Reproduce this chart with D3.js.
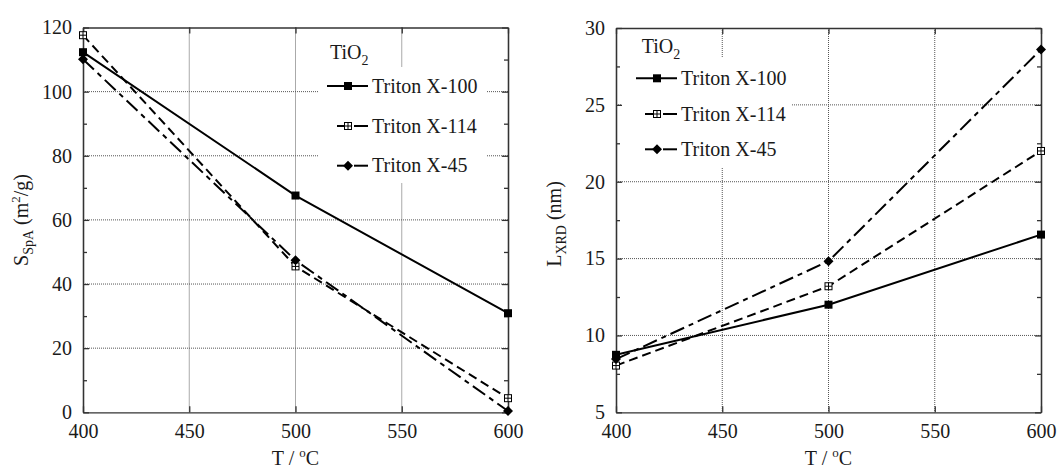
<!DOCTYPE html>
<html>
<head>
<meta charset="utf-8">
<script src="https://d3js.org/d3.v7.min.js"></script>
<style>
  body { margin: 0; background: #fff; }
  svg { display: block; }
  svg text { font-family: "Liberation Serif", "Times New Roman", Times, "DejaVu Serif", serif !important; fill: #1a1a1a; }
</style>
</head>
<body>
<div id="chart"></div>
<script>
    // values
    var temps = [400, 500, 600];
    var seriesNames = ["Triton X-100", "Triton X-114", "Triton X-45"];

    var spaX100 = [112.3, 67.6, 30.9];
    var spaX114 = [117.6, 45.5, 4.4];
    var spaX45 = [110.1, 47.4, 0.4];

    var xrdX100 = [8.74, 12.0, 16.56];
    var xrdX114 = [8.04, 13.2, 22.0];
    var xrdX45 = [8.46, 14.83, 28.6];

    var xTicks = [400, 450, 500, 550, 600];
    var spaTicks = [0, 20, 40, 60, 80, 100, 120];
    var spaMinor = [10, 30, 50, 70, 90, 110];
    var xrdTicks = [5, 10, 15, 20, 25, 30];
    var xrdMinor = [7.5, 12.5, 17.5, 22.5, 27.5];

    // line and marker style per series
    var styles = [
        { dash: null, marker: "square" },
        { dash: "9,5", marker: "boxplus" },
        { dash: "15,5,5,5", marker: "diamond" }
    ];

    var svg = d3.select("#chart").append("svg")
        .attr("width", 1058)
        .attr("height", 470);

    function drawMarker(g, type, cx, cy) {
        if (type == "square") {
            g.append("rect")
                .attr("x", cx - 4).attr("y", cy - 4)
                .attr("width", 8).attr("height", 8)
                .attr("fill", "#000");
        } else if (type == "boxplus") {
            g.append("rect")
                .attr("x", cx - 3.5).attr("y", cy - 3.5)
                .attr("width", 7).attr("height", 7)
                .attr("fill", "#fff").attr("stroke", "#000").attr("stroke-width", 1);
            g.append("path")
                .attr("d", "M" + (cx - 3.5) + "," + cy + "H" + (cx + 3.5) + "M" + cx + "," + (cy - 3.5) + "V" + (cy + 3.5))
                .attr("stroke", "#000").attr("stroke-width", 1);
        } else {
            g.append("path")
                .attr("d", "M" + cx + "," + (cy - 5) + "L" + (cx + 5) + "," + cy + "L" + cx + "," + (cy + 5) + "L" + (cx - 5) + "," + cy + "Z")
                .attr("fill", "#000");
        }
    }

    function drawPanel(p) {
        var x = d3.scaleLinear().domain([400, 600]).range([p.left, p.right]);
        var y = d3.scaleLinear().domain(p.domain).range([p.bottom, p.top]);
        var g = svg.append("g");

        // dotted grid at interior major ticks
        var grid = g.append("g").attr("stroke", "#555").attr("stroke-width", 1).attr("stroke-dasharray", "1,1");
        xTicks.slice(1, -1).forEach(function (t) {
            grid.append("line").attr("x1", x(t)).attr("x2", x(t)).attr("y1", p.top).attr("y2", p.bottom);
        });
        p.ticks.slice(1, -1).forEach(function (t) {
            grid.append("line").attr("x1", p.left).attr("x2", p.right).attr("y1", y(t)).attr("y2", y(t));
        });

        // white legend background
        g.append("rect")
            .attr("x", p.box[0]).attr("y", p.box[1])
            .attr("width", p.box[2]).attr("height", p.box[3])
            .attr("fill", "#fff");

        // axes on all four sides, ticks pointing inward
        g.append("g").attr("transform", "translate(0," + p.bottom + ")")
            .call(d3.axisBottom(x).tickValues(xTicks).tickSize(-6).tickSizeOuter(0).tickPadding(12));
        g.append("g").attr("transform", "translate(0," + p.top + ")")
            .call(d3.axisTop(x).tickValues(xTicks).tickSize(-6).tickSizeOuter(0).tickFormat(""));
        g.append("g").attr("transform", "translate(" + p.left + ",0)")
            .call(d3.axisLeft(y).tickValues(p.ticks).tickSize(-6).tickSizeOuter(0).tickPadding(11));
        g.append("g").attr("transform", "translate(" + p.right + ",0)")
            .call(d3.axisRight(y).tickValues(p.ticks).tickSize(-6).tickSizeOuter(0).tickFormat(""));
        g.append("g").attr("transform", "translate(" + p.left + ",0)")
            .call(d3.axisLeft(y).tickValues(p.minor).tickSize(-4).tickSizeOuter(0).tickFormat(""));
        g.append("g").attr("transform", "translate(" + p.right + ",0)")
            .call(d3.axisRight(y).tickValues(p.minor).tickSize(-4).tickSizeOuter(0).tickFormat(""));

        g.selectAll(".domain").attr("stroke", "#333").attr("stroke-width", 1.3);
        g.selectAll(".tick line").attr("stroke", "#333").attr("stroke-width", 1.3);
        g.selectAll(".tick text").attr("font-size", 20).attr("fill", "#1a1a1a");

        // data lines
        var line = d3.line().x(function (d) { return x(d.t); }).y(function (d) { return y(d.v); });
        p.series.forEach(function (vals, i) {
            var pts = temps.map(function (t, j) { return { t: t, v: vals[j] }; });
            g.append("path")
                .attr("d", line(pts))
                .attr("fill", "none")
                .attr("stroke", "#000")
                .attr("stroke-width", 2)
                .attr("stroke-dasharray", styles[i].dash);
        });
        p.series.forEach(function (vals, i) {
            temps.forEach(function (t, j) {
                drawMarker(g, styles[i].marker, x(t), y(vals[j]));
            });
        });

        // legend
        var lg = g.append("g");
        var tio = lg.append("text").attr("x", p.leg.tx).attr("y", p.leg.ty).attr("font-size", 20).text("TiO");
        tio.append("tspan").attr("font-size", 14).attr("dy", 6).text("2");
        seriesNames.forEach(function (name, i) {
            var ry = p.leg.rows[i];
            var m = p.leg.mx;
            if (i == 0) {
                lg.append("line").attr("x1", p.leg.x0).attr("x2", p.leg.x2).attr("y1", ry).attr("y2", ry)
                    .attr("stroke", "#000").attr("stroke-width", 2);
            } else {
                lg.append("line").attr("x1", p.leg.x1).attr("x2", m - 4).attr("y1", ry).attr("y2", ry)
                    .attr("stroke", "#000").attr("stroke-width", 2);
                lg.append("line").attr("x1", m + 6).attr("x2", p.leg.x2).attr("y1", ry).attr("y2", ry)
                    .attr("stroke", "#000").attr("stroke-width", 2);
            }
            drawMarker(lg, styles[i].marker, m, ry);
            lg.append("text").attr("x", p.leg.x2 + 4).attr("y", ry).attr("dy", "0.33em")
                .attr("font-size", 20).text(name);
        });

        // x title
        var xt = g.append("text")
            .attr("x", (p.left + p.right) / 2).attr("y", 465)
            .attr("text-anchor", "middle").attr("font-size", 20)
            .text("T / ");
        xt.append("tspan").attr("font-size", 13).attr("dy", -8).text("o");
        xt.append("tspan").attr("dy", 8).text("C");

        // y title
        var yt = g.append("text")
            .attr("transform", "translate(" + p.ytx + "," + p.yty + ") rotate(-90)")
            .attr("text-anchor", "middle").attr("font-size", 20)
            .text(p.ysym);
        yt.append("tspan").attr("font-size", 14).attr("dy", 5).text(p.ysub);
        p.yrest(yt);
    }

    drawPanel({
        left: 83, right: 508, top: 27.5, bottom: 412.3,
        domain: [0, 120], ticks: spaTicks, minor: spaMinor,
        series: [spaX100, spaX114, spaX45],
        box: [318, 67, 168, 116],
        leg: { tx: 330, ty: 59, rows: [86, 126, 165.7], mx: 348, x0: 327, x1: 337, x2: 368 },
        ytx: 28, yty: 220, ysym: "S", ysub: "SpA",
        yrest: function (t) {
            t.append("tspan").attr("dy", -5).text(" (m");
            t.append("tspan").attr("font-size", 13).attr("dy", -8).text("2");
            t.append("tspan").attr("dy", 8).text("/g)");
        }
    });

    drawPanel({
        left: 616, right: 1041, top: 28, bottom: 412.3,
        domain: [5, 30], ticks: xrdTicks, minor: xrdMinor,
        series: [xrdX100, xrdX114, xrdX45],
        box: [622, 57, 170, 111],
        leg: { tx: 641.7, ty: 53, rows: [78.3, 114, 149.3], mx: 657, x0: 636, x1: 645, x2: 677 },
        ytx: 561, yty: 224, ysym: "L", ysub: "XRD",
        yrest: function (t) {
            t.append("tspan").attr("dy", -5).text(" (nm)");
        }
    });
</script>
</body>
</html>
